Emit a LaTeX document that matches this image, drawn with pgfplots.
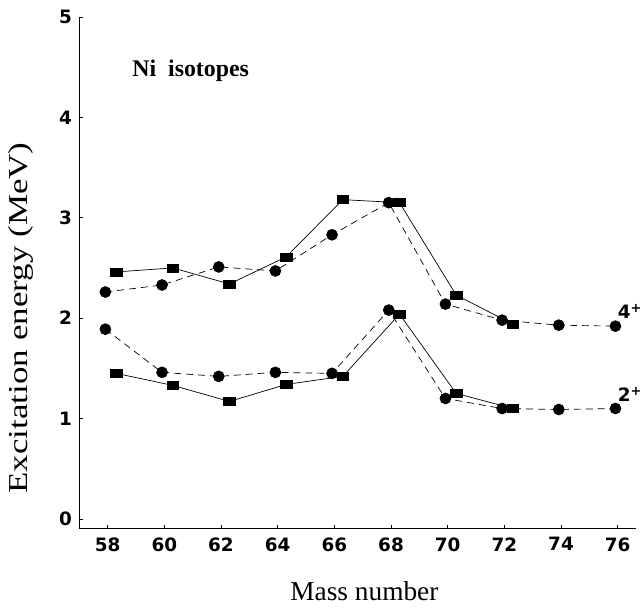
\documentclass[border=0pt]{standalone}
\usepackage{fontspec}
\setmainfont{Liberation Serif}
\newfontfamily\tickfont{DejaVu Sans}
\usepackage{graphicx}
\usepackage{pgfplots}
\pgfplotsset{compat=1.18}

\begin{document}
\begin{tikzpicture}
\begin{axis}[
    scale only axis,
    width=560pt, height=515pt,
    xmin=57, xmax=76.65, ymin=-0.1, ymax=5,
    axis x line=bottom, axis y line=left,
    axis line style={-, line width=1pt},
    xtick={58,60,...,76}, ytick={0,1,...,5},
    tick align=inside, major tick length=4pt,
    tick style={line width=0.8pt, black},
    tick label style={font=\tickfont\bfseries\fontsize{18.5}{18.5}\selectfont},
    /pgf/number format/assume math mode=true,
    xticklabel style={yshift=-5pt},
    yticklabel style={xshift=-4pt},
    xlabel={Mass number},
    ylabel={\scalebox{1.28}[1]{Excitation energy (MeV)}},
    label style={font=\fontsize{27.5}{27.5}\selectfont},
    xlabel style={at={(rel axis cs:0.512,-0.122)}, anchor=center, inner sep=6pt},
    ylabel style={at={(rel axis cs:-0.104,0.412)}, anchor=center, inner sep=9pt},
    clip=false,
]
% 4+ level, calculated (squares, solid)
\addplot[black, line width=0.7pt, mark=square*, mark size=4pt, mark options={xscale=1.45, solid}]
  coordinates {(58.3,2.46) (60.3,2.50) (62.3,2.34) (64.3,2.61) (66.3,3.18) (68.3,3.15) (70.3,2.23) (72.3,1.94)};
% 4+ level, experiment (circles, dashed)
\addplot[black, line width=0.7pt, dash pattern=on 7pt off 5pt, mark=*, mark size=5.5pt, mark options={solid}]
  coordinates {(57.92,2.26) (59.92,2.33) (61.92,2.51) (63.92,2.47) (65.92,2.83) (67.92,3.15) (69.92,2.14) (71.92,1.98) (73.92,1.93) (75.92,1.92)};
% 2+ level, calculated
\addplot[black, line width=0.7pt, mark=square*, mark size=4pt, mark options={xscale=1.45, solid}]
  coordinates {(58.3,1.45) (60.3,1.33) (62.3,1.17) (64.3,1.34) (66.3,1.42) (68.3,2.04) (70.3,1.25) (72.3,1.10)};
% 2+ level, experiment
\addplot[black, line width=0.7pt, dash pattern=on 7pt off 5pt, mark=*, mark size=5.5pt, mark options={solid}]
  coordinates {(57.92,1.89) (59.92,1.46) (61.92,1.42) (63.92,1.46) (65.92,1.45) (67.92,2.08) (69.92,1.20) (71.92,1.10) (73.92,1.09) (75.92,1.10)};

\node[font=\bfseries\fontsize{24}{24}\selectfont] at (axis cs:60.93,4.46) {Ni\ \ isotopes};
\node[anchor=west, inner sep=0pt, font=\tickfont\bfseries\fontsize{18.5}{18.5}\selectfont] at (axis cs:76.0,2.07) {4\textsuperscript{+}};
\node[anchor=west, inner sep=0pt, font=\tickfont\bfseries\fontsize{18.5}{18.5}\selectfont] at (axis cs:76.0,1.24) {2\textsuperscript{+}};
\end{axis}
% a little white room above the top tick label, as in the reference
\path ([yshift=17pt]current axis.north west);
\end{tikzpicture}
\end{document}
